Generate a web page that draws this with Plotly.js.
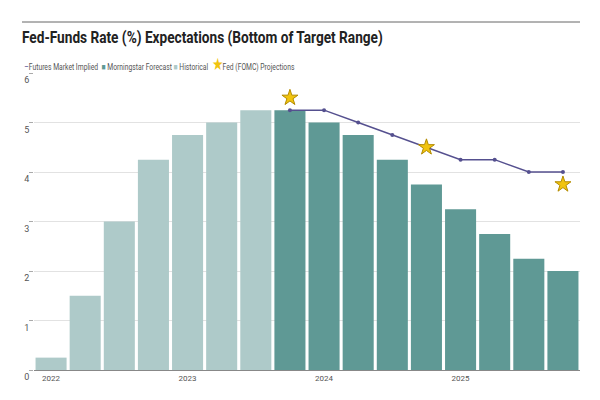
<!DOCTYPE html>
<html>
<head>
<meta charset="utf-8">
<script src="https://cdn.plot.ly/plotly-3.0.1.min.js"></script>
<style>html,body{margin:0;padding:0;background:#fff;}#chart{width:600px;height:400px;}</style>
</head>
<body>
<div id="chart"></div>
<script>
// Quarters from 2022 Q1 to 2025 Q4 (index positions)
const yearTickPos = [0,4,8,12];
const yearLabels = ["2022","2023","2024","2025"];

const histX = [0,1,2,3,4,5,6];
const histVals = [0.25,1.5,3.0,4.25,4.75,5.0,5.25];

const fcstX = [7,8,9,10,11,12,13,14,15];
const fcstVals = [5.25,5.0,4.75,4.25,3.75,3.25,2.75,2.25,2.0];

const futX = [7,8,9,10,11,12,13,14,15];
const futVals = [5.25,5.25,5.0,4.75,4.5,4.25,4.25,4.0,4.0];

const fedX = [7,11,15];
const fedVals = [5.5,4.5,3.75];

const seriesNames = ["Futures Market Implied","Morningstar Forecast","Historical","Fed (FOMC) Projections"];
const COL = {fut:'#55508f', fcst:'#5f9995', hist:'#aecac9', star:'#f1c40f'};

const FONT = "Roboto, 'Liberation Sans', Arial, sans-serif";

const traces = [
  {type:'scatter', mode:'lines+markers', name:seriesNames[0], x:futX, y:futVals,
   line:{color:COL.fut, width:1.5}, marker:{color:COL.fut, size:4}},
  {type:'bar', name:seriesNames[1], x:fcstX, y:fcstVals,
   marker:{color:COL.fcst, line:{width:0}}},
  {type:'bar', name:seriesNames[2], x:histX, y:histVals,
   marker:{color:COL.hist, line:{width:0}}},
  {type:'scatter', mode:'markers', name:seriesNames[3], x:fedX, y:fedVals,
   marker:{symbol:'star', size:12, color:COL.star, line:{color:'#b38b00', width:1}}}
];

const legendText =
  '<span style="color:'+COL.fut+'">–</span>'+seriesNames[0]+'  '+
  '<span style="color:'+COL.fcst+'">■</span> '+seriesNames[1]+' '+
  '<span style="color:'+COL.hist+'">■</span> '+seriesNames[2]+'  '+
  '<span style="color:'+COL.star+';font-size:17px">★</span>'+seriesNames[3];

const layout = {
  width:600, height:400,
  margin:{l:34, r:20, t:73, b:30},
  paper_bgcolor:'#fff', plot_bgcolor:'#fff',
  barmode:'overlay', bargap:0.09,
  showlegend:false,
  title:{text:'<b>Fed-Funds Rate (%) Expectations (Bottom of Target Range)</b>',
    x:22/600, xanchor:'left', y:1-37/400, yanchor:'middle', yref:'container', xref:'container',
    font:{family:FONT, size:17, color:'#222'}},
  annotations:[
    {xref:'paper', yref:'paper', x:-12/546, y:1+(370-64-297)/297, xanchor:'left', yanchor:'middle',
     showarrow:false, text:legendText, font:{family:FONT, size:9, color:'#555'}}
  ],
  xaxis:{range:[-0.5,15.5], tickmode:'array', tickvals:yearTickPos, ticktext:yearLabels,
    showgrid:false, zeroline:false, showline:true, linecolor:'#888', linewidth:1,
    ticks:'', tickfont:{family:FONT, size:8, color:'#555'}, fixedrange:true},
  yaxis:{range:[0,6], tickvals:[0,1,2,3,4,5,6], showgrid:true, gridcolor:'#e2e2e2', gridwidth:1,
    zeroline:false, showline:false, ticks:'outside', ticklen:4, tickcolor:'#aaa',
    ticklabelshift:7, ticklabelstandoff:-2,
    tickfont:{family:FONT, size:9, color:'#555'}, fixedrange:true},
  shapes:[
    {type:'line', xref:'paper', yref:'paper', x0:-12/546, x1:1, y0:1+51/297, y1:1+51/297,
     line:{color:'#666', width:1}}
  ]
};

function condense(el, leftX, targetW){
  if(!el) return;
  const w = el.getBBox().width;
  if(!w) return;
  const s = targetW / w;
  const prev = el.getAttribute('transform') || '';
  el.setAttribute('transform', 'translate('+leftX+',0) scale('+s+',1) translate('+(-leftX)+',0) '+prev);
}

Plotly.newPlot('chart', traces, layout, {displayModeBar:false, staticPlot:true}).then(function(gd){
  const t = gd.querySelector('.gtitle');
  if(t){ const bb = t.getBBox(); condense(t, bb.x, 361); }
  const a = gd.querySelector('.annotation-text-g text');
  if(a){ const bb = a.getBBox(); condense(a, bb.x, 271); }
});
</script>
</body>
</html>
